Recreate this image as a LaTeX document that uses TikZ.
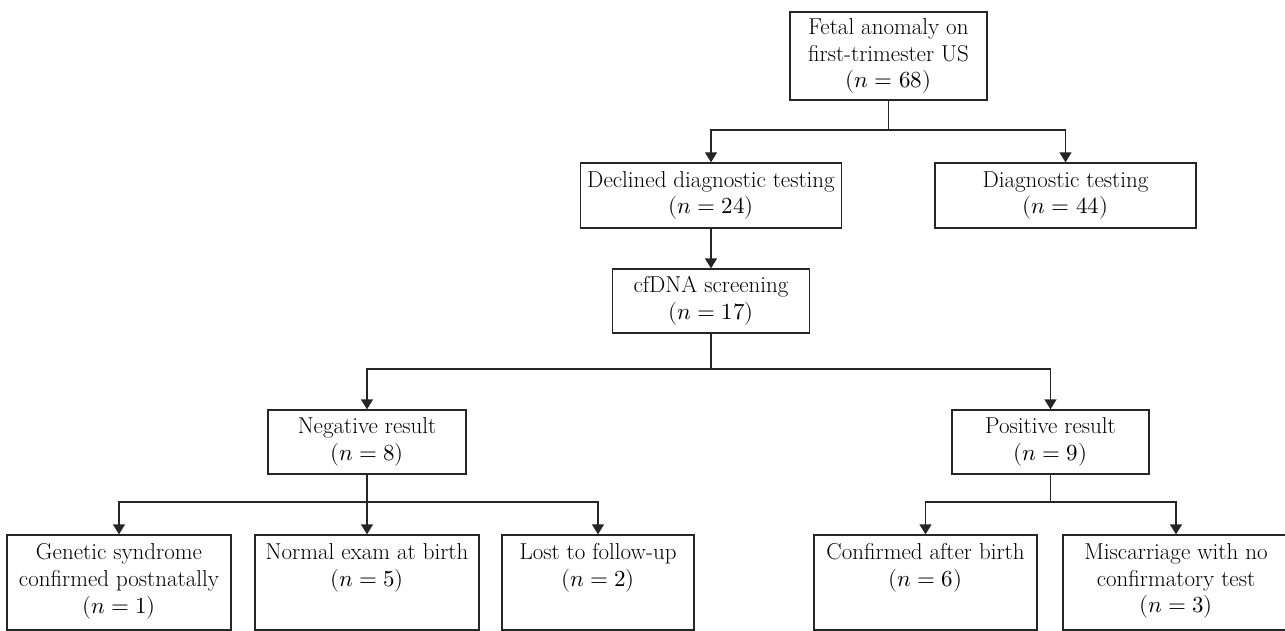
\documentclass[tikz,border=0pt]{standalone}
\usepackage{fontspec}
\usepackage{unicode-math}
\usetikzlibrary{arrows.meta}
\begin{document}
\begin{tikzpicture}[x=1pt,y=-1pt,
  every node/.style={font=\fontsize{23}{26.7}\selectfont},
  box/.style={draw=black!85, line width=1.3pt, align=center, inner sep=0pt},
  link/.style={draw=black!85, line width=1.3pt},
  arr/.style={link, -{Triangle[width=12pt,length=10pt]}},
  toptext/.style={anchor=north, align=center, yshift=-9pt, inner sep=0pt}
]
\useasboundingbox (0,0) rectangle (1285,631);
\begin{scope}
\clip (0,0) rectangle (1285,631);
% upper boxes
\node[box, minimum width=197pt, minimum height=88pt] (fetal) at (888.5,56)
  {Fetal anomaly on\\first-trimester US\\$(n=68)$};
\node[box, minimum width=261pt, minimum height=65pt] (declined) at (711,195.5)
  {Declined diagnostic testing\\$(n=24)$};
\node[box, minimum width=261pt, minimum height=65pt] (diag) at (1065.5,195.5)
  {Diagnostic testing\\$(n=44)$};
\node[box, minimum width=197pt, minimum height=64pt] (cfdna) at (711,301)
  {cfDNA screening\\$(n=17)$};
\node[box, minimum width=198pt, minimum height=64pt] (neg) at (367,442)
  {Negative result\\$(n=8)$};
\node[box, minimum width=197pt, minimum height=64pt] (pos) at (1050.5,442)
  {Positive result\\$(n=9)$};
% bottom boxes (text at top)
\node[box, minimum width=224pt, minimum height=95pt,
  label={[toptext]north:{Genetic syndrome\\confirmed postnatally\\$(n=1)$}}] (gen) at (119,582.5) {};
\node[box, minimum width=224pt, minimum height=95pt,
  label={[toptext]north:{Normal exam at birth\\$(n=5)$}}] (norm) at (367,582.5) {};
\node[box, minimum width=192pt, minimum height=95pt,
  label={[toptext]north:{Lost to follow-up\\$(n=2)$}}] (lost) at (598,582.5) {};
\node[box, minimum width=223pt, minimum height=95pt,
  label={[toptext]north:{Confirmed after birth\\$(n=6)$}}] (conf) at (925.5,582.5) {};
\node[box, minimum width=226pt, minimum height=95pt,
  label={[toptext]north:{Miscarriage with no\\confirmatory test\\$(n=3)$}}] (misc) at (1176,582.5) {};
% junctions
\coordinate (j1) at (fetal.south |- 0,130);
\coordinate (j2) at (cfdna.south |- 0,369);
\coordinate (j3) at (neg.south |- 0,502);
\coordinate (j4) at (pos.south |- 0,502);
% connectors
\draw[link] (fetal.south) -- (j1);
\draw[arr] (j1) -| (declined.north);
\draw[arr] (j1) -| (diag.north);
\draw[arr] (declined.south) -- (cfdna.north);
\draw[link] (cfdna.south) -- (j2);
\draw[arr] (j2) -| (neg.north);
\draw[arr] (j2) -| (pos.north);
\draw[link] (neg.south) -- (j3);
\draw[arr] (j3) -| (gen.north);
\draw[arr] (j3) -- (norm.north);
\draw[arr] (j3) -| (lost.north);
\draw[link] (pos.south) -- (j4);
\draw[arr] (j4) -| (conf.north);
\draw[arr] (j4) -| (misc.north);
\end{scope}
\end{tikzpicture}
\end{document}
